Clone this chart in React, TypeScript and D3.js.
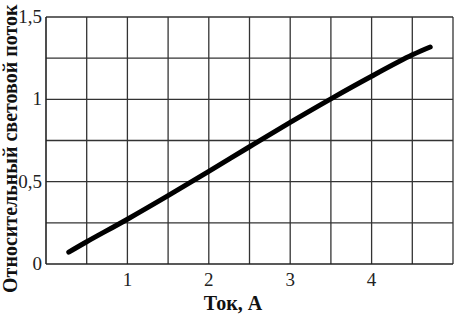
import React, { useEffect, useRef } from "react";
import * as d3 from "d3";

const W = 457;
const H = 316;

// current (A) vs relative luminous flux
const current = [0.28, 0.5, 1.0, 1.5, 2.0, 2.5, 3.0, 3.5, 4.0, 4.5, 4.72];
const flux = [0.072, 0.135, 0.272, 0.415, 0.562, 0.712, 0.86, 1.003, 1.14, 1.27, 1.318];

const xTicks = [1, 2, 3, 4];
const yTicks = [0, 0.5, 1, 1.5];
const xGrid = [0.5, 1, 1.5, 2, 2.5, 3, 3.5, 4, 4.5, 5];
const yGrid = [0.25, 0.5, 0.75, 1, 1.25, 1.5];

const m = { left: 46, right: 4, top: 17, bottom: 52 };
const FONT = "'Liberation Serif', 'Times New Roman', serif";

const App = () => {
  const svgRef = useRef<SVGSVGElement>(null);

  useEffect(() => {
    const svg = d3.select(svgRef.current);
    svg.selectAll("*").remove();

    const x = d3.scaleLinear().domain([0, 5]).range([m.left, W - m.right]);
    const y = d3.scaleLinear().domain([0, 1.5]).range([H - m.bottom, m.top]);

    const g = svg.append("g");

    g.selectAll(".vx")
      .data(xGrid)
      .enter()
      .append("line")
      .attr("x1", d => x(d))
      .attr("x2", d => x(d))
      .attr("y1", y(0))
      .attr("y2", y(1.5))
      .attr("stroke", "#333")
      .attr("stroke-width", 1.3);

    g.selectAll(".hy")
      .data(yGrid)
      .enter()
      .append("line")
      .attr("x1", x(0))
      .attr("x2", x(5))
      .attr("y1", d => y(d))
      .attr("y2", d => y(d))
      .attr("stroke", "#333")
      .attr("stroke-width", 1.3);

    // axes lines
    g.append("line")
      .attr("x1", x(0)).attr("x2", x(0))
      .attr("y1", y(0)).attr("y2", y(1.5))
      .attr("stroke", "#222").attr("stroke-width", 1.6);
    g.append("line")
      .attr("x1", x(0)).attr("x2", x(5))
      .attr("y1", y(0)).attr("y2", y(0))
      .attr("stroke", "#222").attr("stroke-width", 1.6);

    const fmt = (v: number) => String(v).replace(".", ",");

    g.selectAll(".xt")
      .data(xTicks)
      .enter()
      .append("text")
      .attr("x", d => x(d))
      .attr("y", y(0) + 22)
      .attr("text-anchor", "middle")
      .style("font-family", FONT)
      .style("font-size", "19px")
      .attr("fill", "#222")
      .text(d => fmt(d));

    g.selectAll(".yt")
      .data(yTicks)
      .enter()
      .append("text")
      .attr("x", x(0) - 4)
      .attr("y", d => y(d) + 6)
      .attr("text-anchor", "end")
      .style("font-family", FONT)
      .style("font-size", "19px")
      .attr("fill", "#222")
      .text(d => fmt(d));

    const line = d3
      .line<number>()
      .x((d, i) => x(current[i]))
      .y(d => y(d))
      .curve(d3.curveCatmullRom);

    g.append("path")
      .datum(flux)
      .attr("d", line)
      .attr("fill", "none")
      .attr("stroke", "#000")
      .attr("stroke-width", 5)
      .attr("stroke-linecap", "round");

    g.append("text")
      .attr("x", 233)
      .attr("y", 310)
      .attr("text-anchor", "middle")
      .style("font-family", FONT)
      .style("font-weight", "bold")
      .style("font-size", "20px")
      .attr("fill", "#111")
      .text("Ток, А");

    g.append("text")
      .attr("transform", `translate(17,293) rotate(-90)`)
      .attr("text-anchor", "start")
      .style("font-family", FONT)
      .style("font-weight", "bold")
      .style("font-size", "20px")
      .attr("fill", "#111")
      .text("Относительный световой поток");
  }, []);

  return (
    <div style={{ position: "absolute", left: 0, top: 0 }}>
      <svg ref={svgRef} width={W} height={H} style={{ display: "block", background: "#fff" }} />
    </div>
  );
};

export default App;
